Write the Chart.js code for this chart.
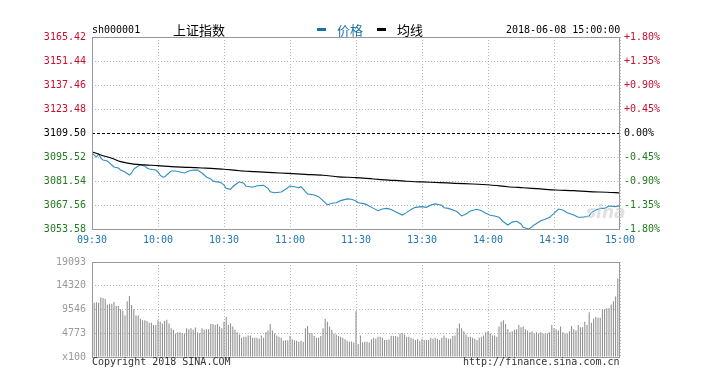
<!DOCTYPE html>
<html><head><meta charset="utf-8">
<script src="https://cdn.jsdelivr.net/npm/chart.js"></script>
<style>
html,body{margin:0;padding:0;background:#fff;}
#wrap{position:relative;width:702px;height:379px;overflow:hidden;font-family:"DejaVu Sans Mono",monospace;}
canvas{position:absolute;left:0;}
.t{position:absolute;white-space:nowrap;font-size:10px;line-height:12px;color:#000;}
.cjk{font-family:"Noto Sans CJK SC",sans-serif;font-size:13px;line-height:15px;}
.mk{position:absolute;height:3px;width:9px;}
</style></head><body>
<div id="wrap">
<canvas id="price" width="702" height="250" style="top:0"></canvas>
<canvas id="vol" width="702" height="129" style="top:250px"></canvas>
<div class="t" style="left:92px;top:24px;">sh000001</div>
<div class="t cjk" style="left:173px;top:22px;">上证指数</div>
<div class="mk" style="left:317px;top:28px;background:#1a72a8;"></div>
<div class="t cjk" style="left:337px;top:22px;color:#1a72a8;">价格</div>
<div class="mk" style="left:377px;top:28px;background:#000;"></div>
<div class="t cjk" style="left:397px;top:22px;">均线</div>
<div class="t" style="left:506px;top:24px;">2018-06-08 15:00:00</div>
<div class="t" style="left:586px;top:202px;font-family:'DejaVu Sans',sans-serif;font-style:italic;font-weight:bold;font-size:17px;line-height:20px;color:rgba(205,205,205,0.6);">sina</div>
<div class="t" style="left:92px;top:356px;color:#333;">Copyright 2018 SINA.COM</div>
<div class="t" style="left:463px;top:356px;color:#333;">http://finance.sina.com.cn</div>
</div>
<script>
// ---- data ----
const timeLabels = ['09:30','10:00','10:30','11:00','11:30','13:30','14:00','14:30','15:00'];
const timeTickPos = [0,30,60,90,120,150,180,210,240];
const priceTicks = [3165.42,3151.44,3137.46,3123.48,3109.50,3095.52,3081.54,3067.56,3053.58];
const pctLabels = ['+1.80%','+1.35%','+0.90%','+0.45%','0.00%','-0.45%','-0.90%','-1.35%','-1.80%'];
const preClose = 3109.50;
const volTicks = [0,4773,9546,14320,19093];
const volTickLabels = ['x100','4773','9546','14320','19093'];

const priceMinutes = [0,2,3,4,5,7,8,10,12,13,15,17,18,19,21,22,24,25,26,29,30,31,32,33,35,36,38,40,42,44,46,48,50,52,54,55,56,58,59,60,61,63,64,66,67,69,70,73,75,78,80,81,83,86,88,90,92,94,95,97,98,101,103,105,107,109,111,113,116,118,120,121,124,126,128,130,132,134,136,138,141,143,145,147,150,152,154,156,159,160,162,165,166,168,170,172,175,177,179,181,183,185,187,189,191,193,195,196,198,199,201,204,206,208,210,212,214,216,219,221,223,226,227,229,231,233,235,238,240];
const priceValues = [3097.9,3095.5,3097.3,3094.9,3093.8,3093.2,3092.0,3089.7,3089.1,3087.9,3086.8,3085.0,3086.2,3088.5,3090.3,3090.9,3090.3,3089.1,3088.5,3087.9,3086.8,3085.0,3083.9,3083.9,3086.2,3087.4,3087.4,3086.8,3086.2,3087.4,3087.9,3087.9,3086.2,3083.9,3082.7,3081.5,3081.2,3080.9,3080.3,3079.2,3077.3,3076.7,3078.2,3080.2,3081.1,3080.2,3078.6,3077.9,3078.8,3079.0,3077.3,3075.3,3074.7,3075.1,3076.7,3078.6,3078.2,3077.6,3078.2,3075.3,3074.0,3073.4,3072.4,3070.1,3067.6,3068.6,3068.9,3070.1,3071.1,3070.9,3069.9,3068.9,3068.2,3067.0,3065.6,3064.2,3065.2,3065.6,3065.0,3063.6,3061.7,3063.1,3065.0,3066.2,3066.6,3066.2,3067.6,3068.2,3067.4,3066.0,3065.6,3064.2,3063.6,3061.2,3062.3,3064.1,3065.1,3064.2,3062.7,3061.6,3061.2,3060.4,3057.8,3055.9,3057.6,3058.1,3056.5,3054.6,3053.7,3053.9,3055.9,3058.4,3059.2,3060.4,3062.7,3065.2,3064.6,3063.1,3061.7,3060.4,3060.4,3061.2,3063.1,3064.7,3065.6,3065.6,3067.0,3066.6,3067.2];

const avgMinutes = [0,4,9,13,19,24,30,36,44,50,54,60,67,74,82,89,97,105,112,120,128,135,143,150,158,165,173,181,189,196,204,211,219,226,234,240];
const avgValues = [3098.6,3096.7,3094.8,3092.8,3091.4,3090.9,3090.5,3089.9,3089.5,3089.1,3088.9,3088.4,3087.5,3087.0,3086.4,3086.0,3085.4,3084.9,3084.0,3083.5,3082.7,3082.1,3081.4,3081.0,3080.6,3080.2,3079.8,3079.2,3078.2,3077.6,3076.9,3076.3,3075.9,3075.3,3075.0,3074.6];

const volumeValues = [
10880,10880,11010,10880,11970,11840,11650,10570,10690,10690,
11070,10250,10250,9610,9290,8340,11200,12280,10440,9610,
8340,8340,7700,7380,7380,7260,6870,6870,6430,6430,
7380,7060,6750,7260,7510,6750,5790,5470,4710,4960,
4960,4840,4710,5790,5600,5790,5470,5920,4960,4840,
5790,5470,5600,5600,6620,6620,6430,6620,6110,5790,
7060,8020,6430,6750,6110,5470,4960,4520,3880,4070,
4070,4330,4330,3880,3880,3880,3690,4330,3880,4960,
5350,6620,5350,4710,4330,4070,3880,3250,3370,3370,
4200,3560,3370,3250,3060,3250,3060,5790,6240,4840,
4710,4200,3880,3880,4200,5790,7700,7060,6110,5470,
4710,4520,4200,4070,3880,3560,3250,3060,3060,2930,
9170,
2610,4330,2930,3060,3060,2930,3560,3880,3690,4070,
4070,3880,3440,3440,3560,4200,4200,4200,4070,4710,
4840,4520,4070,4070,3880,3690,3440,3560,3250,3690,
3440,3440,3440,3880,3690,3880,3690,3440,3880,4330,
3880,3690,3690,4200,4330,5790,6750,5790,5160,4520,
4070,4070,3880,3690,3440,3880,4070,4330,4960,5160,
4710,4330,4330,4070,6110,7060,7380,6620,5600,4960,
5160,5470,5600,6430,5980,6110,5600,5350,4960,5160,
4710,4960,4710,4960,4710,4710,4710,4960,6430,5790,
5600,5350,6110,4960,4710,4710,5160,6240,5600,5350,
6430,5980,5980,7060,6430,8970,6870,7700,8020,7890,
7890,9610,9610,
9800,9800,10570,11200,12160,15780,15780];

// ---- styles ----
const FONT = {family:'"DejaVu Sans Mono", monospace', size:10};
const RED = '#c8102e', GREEN = '#217a21', BLUE = '#2277b0';
const GRID = '#b8b8b8';
const isBase = v => Math.abs(v - preClose) < 0.001;
const tickColor = ctx => { const v = ctx.tick ? ctx.tick.value : preClose; return isBase(v) ? '#000' : (v > preClose ? RED : GREEN); };

const framePlugin = {
  id:'frame',
  afterDatasetsDraw(chart){
    const a = chart.chartArea, c = chart.ctx;
    c.save(); c.strokeStyle = '#999'; c.lineWidth = 1;
    c.strokeRect(Math.round(a.left)+0.5, Math.round(a.top)+0.5, Math.round(a.right-a.left)-1, Math.round(a.bottom-a.top));
    c.restore();
  }
};

const xCommon = (showLabels) => ({
  type:'linear', min:0, max:240, offset:false,
  afterBuildTicks: s => { s.ticks = timeTickPos.map(v => ({value:v})); },
  afterFit: s => { s.height = showLabels ? 21 : 22; },
  grid:{ color: GRID, lineWidth:1, drawTicks:false, offset:false },
  border:{ display:false, dash:[1,2] },
  ticks:{ display:showLabels, autoSkip:false, maxRotation:0, padding:5, color:BLUE, font:FONT,
    callback: v => timeLabels[timeTickPos.indexOf(v)] }
});

new Chart(document.getElementById('price'), {
  type:'line',
  data:{ datasets:[
    { label:'价格', data: priceMinutes.map((m,i)=>({x:m, y:priceValues[i]})), borderColor:'#2f8cc4', borderWidth:1.1, pointRadius:0, tension:0, order:2 },
    { label:'均线', data: avgMinutes.map((m,i)=>({x:m, y:avgValues[i]})), borderColor:'#000', borderWidth:1.2, pointRadius:0, tension:0.3, order:1 }
  ]},
  options:{
    responsive:false, animation:false, devicePixelRatio:1,
    layout:{ padding:{ top:37, left:0, right:0, bottom:0 } },
    plugins:{ legend:{display:false}, tooltip:{enabled:false} },
    scales:{
      x: xCommon(true),
      y: {
        type:'linear', position:'left', min:3053.58, max:3165.42,
        afterBuildTicks: s => { s.ticks = priceTicks.map(v => ({value:v})); },
        afterFit: s => { s.width = 92; },
        grid:{ color: ctx => (ctx.tick && isBase(ctx.tick.value)) ? '#000' : GRID, drawTicks:false },
        border:{ display:false, dash: ctx => (ctx.tick && isBase(ctx.tick.value)) ? [3,2] : [1,2] },
        ticks:{ padding:6, font:FONT, color:tickColor, callback: v => v.toFixed(2) }
      },
      y2: {
        type:'linear', position:'right', min:3053.58, max:3165.42,
        afterBuildTicks: s => { s.ticks = priceTicks.map(v => ({value:v})); },
        afterFit: s => { s.width = 82; },
        grid:{ drawOnChartArea:false, drawTicks:false },
        border:{ display:false },
        ticks:{ padding:4, font:FONT, color:tickColor, callback: v => pctLabels[priceTicks.indexOf(v)] }
      }
    }
  },
  plugins:[framePlugin]
});

new Chart(document.getElementById('vol'), {
  type:'bar',
  data:{ datasets:[
    { label:'成交量', data: volumeValues.map((v,i)=>({x:i, y:v})), backgroundColor:'#888', barThickness:1, inflateAmount:0, grouped:false }
  ]},
  options:{
    responsive:false, animation:false, devicePixelRatio:1,
    layout:{ padding:{ top:7, right:82, left:0, bottom:0 } },
    plugins:{ legend:{display:false}, tooltip:{enabled:false} },
    scales:{
      x: xCommon(false),
      y: {
        type:'linear', position:'left', min:0, max:19093,
        afterBuildTicks: s => { s.ticks = volTicks.map(v => ({value:v})); },
        afterFit: s => { s.width = 92; },
        grid:{ color: GRID, drawTicks:false },
        border:{ display:false, dash:[1,2] },
        ticks:{ padding:6, font:FONT, color:'#999', callback: v => volTickLabels[volTicks.indexOf(v)] }
      }
    }
  },
  plugins:[framePlugin]
});
</script>
</body></html>
